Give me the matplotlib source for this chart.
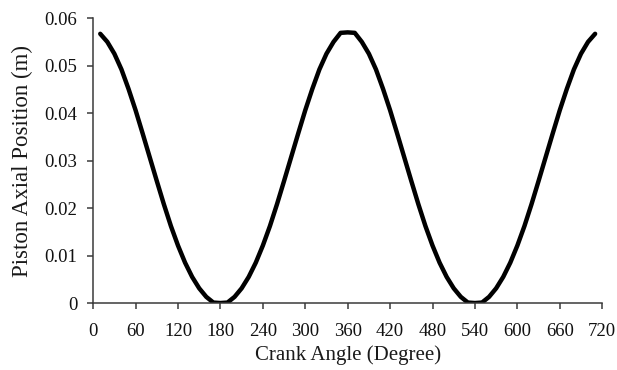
import matplotlib
matplotlib.use("Agg")
from matplotlib import pyplot as plt

# Crank angle (deg) and piston axial position (m)
crank_angle = [10, 20, 30, 40, 50, 60, 70, 80, 90, 100, 110, 120, 130, 140, 150, 160, 170, 180,
               190, 200, 210, 220, 230, 240, 250, 260, 270, 280, 290, 300, 310, 320, 330, 340, 350, 360,
               370, 380, 390, 400, 410, 420, 430, 440, 450, 460, 470, 480, 490, 500, 510, 520, 530, 540,
               550, 560, 570, 580, 590, 600, 610, 620, 630, 640, 650, 660, 670, 680, 690, 700, 710]
position = [0.0567, 0.0550, 0.0525, 0.0492, 0.0451, 0.0406, 0.0357, 0.0307, 0.0257,
            0.0208, 0.0162, 0.0121, 0.0085, 0.0055, 0.0031, 0.0013, 0.0001, 0.0,
            0.0001, 0.0013, 0.0031, 0.0055, 0.0085, 0.0121, 0.0162, 0.0208, 0.0257,
            0.0307, 0.0357, 0.0406, 0.0451, 0.0492, 0.0525, 0.0550, 0.0569, 0.0570,
            0.0569, 0.0550, 0.0525, 0.0492, 0.0451, 0.0406, 0.0357, 0.0307, 0.0257,
            0.0208, 0.0162, 0.0121, 0.0085, 0.0055, 0.0031, 0.0013, 0.0001, 0.0,
            0.0001, 0.0013, 0.0031, 0.0055, 0.0085, 0.0121, 0.0162, 0.0208, 0.0257,
            0.0307, 0.0357, 0.0406, 0.0451, 0.0492, 0.0525, 0.0550, 0.0567]

x_ticks = list(range(0, 721, 60))
y_ticks = [0, 0.01, 0.02, 0.03, 0.04, 0.05, 0.06]
y_tick_labels = ["0", "0.01", "0.02", "0.03", "0.04", "0.05", "0.06"]

plt.rcParams["font.family"] = ["Liberation Serif", "DejaVu Serif"]

fig = plt.figure(figsize=(6.17, 3.70), dpi=100)
ax = fig.add_axes([0.151, 0.181, 0.825, 0.770])

ax.plot(crank_angle, position, color="black", linewidth=3.2, solid_capstyle="round",
        solid_joinstyle="round")

ax.set_xlim(0, 720)
ax.set_ylim(0, 0.06)
ax.set_xticks(x_ticks)
ax.set_yticks(y_ticks)
ax.set_yticklabels(y_tick_labels)

ax.spines["top"].set_visible(False)
ax.spines["right"].set_visible(False)
for side in ("left", "bottom"):
    ax.spines[side].set_color("#3a3a3a")
    ax.spines[side].set_linewidth(1.1)

ax.tick_params(axis="both", direction="out", length=4.5, width=1.1, color="#3a3a3a",
               labelsize=13.5, labelcolor="#111111")
ax.tick_params(axis="x", pad=10)
ax.tick_params(axis="y", pad=7)

ax.set_xlabel("Crank Angle (Degree)", fontsize=15, color="#1a1a1a", labelpad=4)
ax.set_ylabel("Piston Axial Position (m)", fontsize=16.5, color="#1a1a1a", labelpad=8)

fig.savefig("out.png", dpi=100)
